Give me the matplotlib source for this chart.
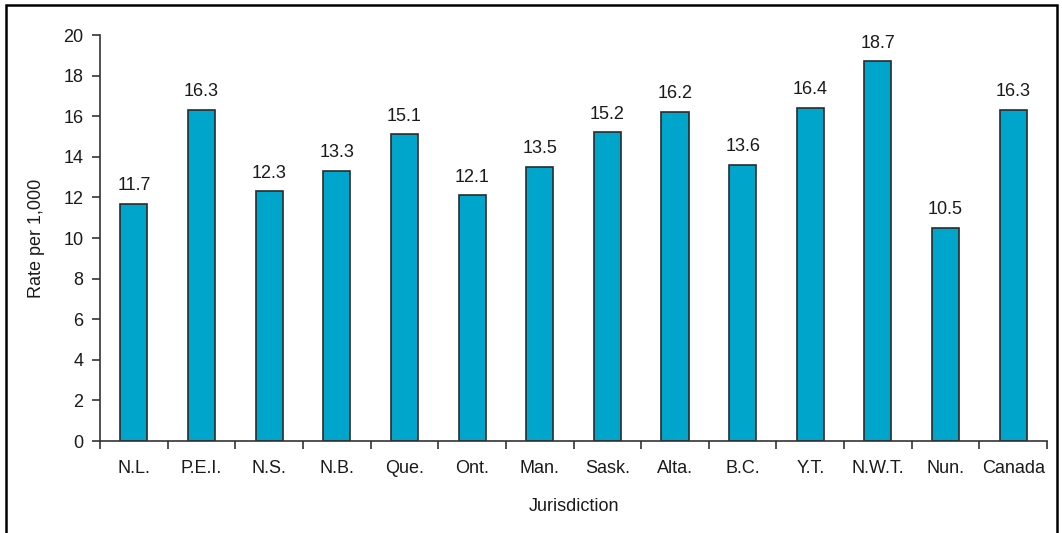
import matplotlib
matplotlib.use("Agg")
import matplotlib.pyplot as plt
from matplotlib.patches import Rectangle
import numpy as np

jurisdictions = ["N.L.", "P.E.I.", "N.S.", "N.B.", "Que.", "Ont.", "Man.", "Sask.",
                 "Alta.", "B.C.", "Y.T.", "N.W.T.", "Nun.", "Canada"]
rates = [11.7, 16.3, 12.3, 13.3, 15.1, 12.1, 13.5, 15.2, 16.2, 13.6, 16.4, 18.7, 10.5, 16.3]
y_ticks = [0, 2, 4, 6, 8, 10, 12, 14, 16, 18, 20]

plt.rcParams["font.family"] = ["Liberation Sans", "DejaVu Sans"]

fig = plt.figure(figsize=(10.62, 5.33), dpi=100)
ax = fig.add_axes([0.0942, 0.1726, 0.8917, 0.7617])

x = np.arange(len(jurisdictions))
ax.bar(x, rates, width=0.4, color="#00A5CC", edgecolor="#2b2b2b", linewidth=1.2, zorder=2)

for xi, v in zip(x, rates):
    ax.annotate(f"{v:.1f}", (xi, v), xytext=(0, 7), textcoords="offset points",
                ha="center", va="bottom", fontsize=13, color="#1a1a1a")

ax.set_xlim(-0.5, len(jurisdictions) - 0.5)
ax.set_ylim(0, 20)
ax.set_yticks(y_ticks)
ax.tick_params(axis="y", labelsize=13, length=6, width=1.2, color="#333333",
               labelcolor="#1a1a1a", pad=6)

ax.set_xticks(x)
ax.set_xticklabels(jurisdictions)
ax.set_xticks(np.arange(len(jurisdictions) + 1) - 0.5, minor=True)
ax.tick_params(axis="x", which="major", length=0, labelsize=13, labelcolor="#1a1a1a", pad=14)
ax.tick_params(axis="x", which="minor", length=6, width=1.2, color="#333333")

for side in ("top", "right"):
    ax.spines[side].set_visible(False)
for side in ("left", "bottom"):
    ax.spines[side].set_color("#333333")
    ax.spines[side].set_linewidth(1.2)

ax.set_ylabel("Rate per 1,000", fontsize=13, color="#1a1a1a", labelpad=13)
ax.set_xlabel("Jurisdiction", fontsize=13, color="#1a1a1a", labelpad=15)

# outer frame around the chart
fig.patches.append(Rectangle((6 / 1062, -0.05), 1051 / 1062, 1.05 - 5 / 533,
                             transform=fig.transFigure, fill=False,
                             edgecolor="black", linewidth=1.8, clip_on=False))

fig.savefig("out.png", dpi=100)
